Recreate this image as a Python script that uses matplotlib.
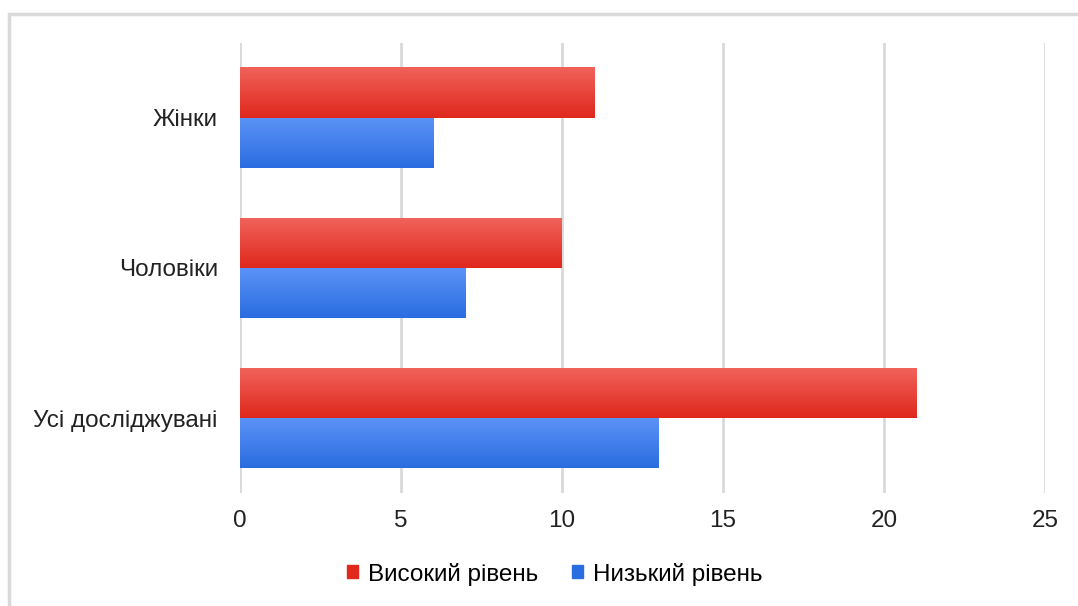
import matplotlib.pyplot as plt
import numpy as np
from matplotlib.patches import Rectangle
from matplotlib.colors import LinearSegmentedColormap

plt.rcParams['font.family'] = ['Liberation Sans', 'DejaVu Sans']

categories = ['Усі досліджувані', 'Чоловіки', 'Жінки']
high = [21, 10, 11]
low = [13, 7, 6]
series_names = ['Високий рівень', 'Низький рівень']
xticks = [0, 5, 10, 15, 20, 25]

red_top, red_bottom = '#f0625a', '#e0281d'
blue_top, blue_bottom = '#5b92f7', '#2a6de0'

fig = plt.figure(figsize=(10.78, 6.06), dpi=100)
ax = fig.add_axes([240 / 1078, 1 - 493 / 606, (1045 - 240) / 1078, (493 - 43) / 606])

y = np.arange(len(categories))
h = 1 / 3
bars_high = ax.barh(y + h / 2, high, height=h, color=red_bottom, zorder=2)
bars_low = ax.barh(y - h / 2, low, height=h, color=blue_bottom, zorder=2)

# vertical gradient on each bar
def shade(bars, top, bottom):
    cmap = LinearSegmentedColormap.from_list('g', [bottom, top])
    grad = np.linspace(0, 1, 64).reshape(-1, 1)
    for b in bars:
        x0, y0 = b.get_x(), b.get_y()
        w, hh = b.get_width(), b.get_height()
        ax.imshow(grad, cmap=cmap, aspect='auto', origin='lower',
                  extent=[x0, x0 + w, y0, y0 + hh], zorder=3)

shade(bars_high, red_top, red_bottom)
shade(bars_low, blue_top, blue_bottom)

ax.set_xlim(0, 25)
ax.set_ylim(-0.5, 2.5)
ax.set_xticks(xticks)
ax.set_yticks(y)
ax.set_yticklabels(categories)
ax.tick_params(length=0, labelsize=17.5, colors='#222222')
ax.tick_params(axis='x', pad=12)
ax.tick_params(axis='y', pad=16)
ax.grid(axis='x', color='#d9d9d9', linewidth=2, zorder=0)
for s in ax.spines.values():
    s.set_visible(False)

handles = [Rectangle((0, 0), 1, 1, color=red_bottom), Rectangle((0, 0), 1, 1, color=blue_bottom)]
fig.legend(handles, series_names, loc='center', bbox_to_anchor=(555 / 1078, 1 - 574 / 606),
           ncol=2, frameon=False, fontsize=17.5, handlelength=0.45, handleheight=0.45,
           handletextpad=0.4, columnspacing=1.4)

# light frame around the chart
fig.patches.append(Rectangle((9 / 1078, -0.02), 1.1, 1 - 14 / 606 + 0.02, transform=fig.transFigure,
                             fill=False, edgecolor='#d9d9d9', linewidth=2.5))

fig.savefig('out.png', dpi=100)
